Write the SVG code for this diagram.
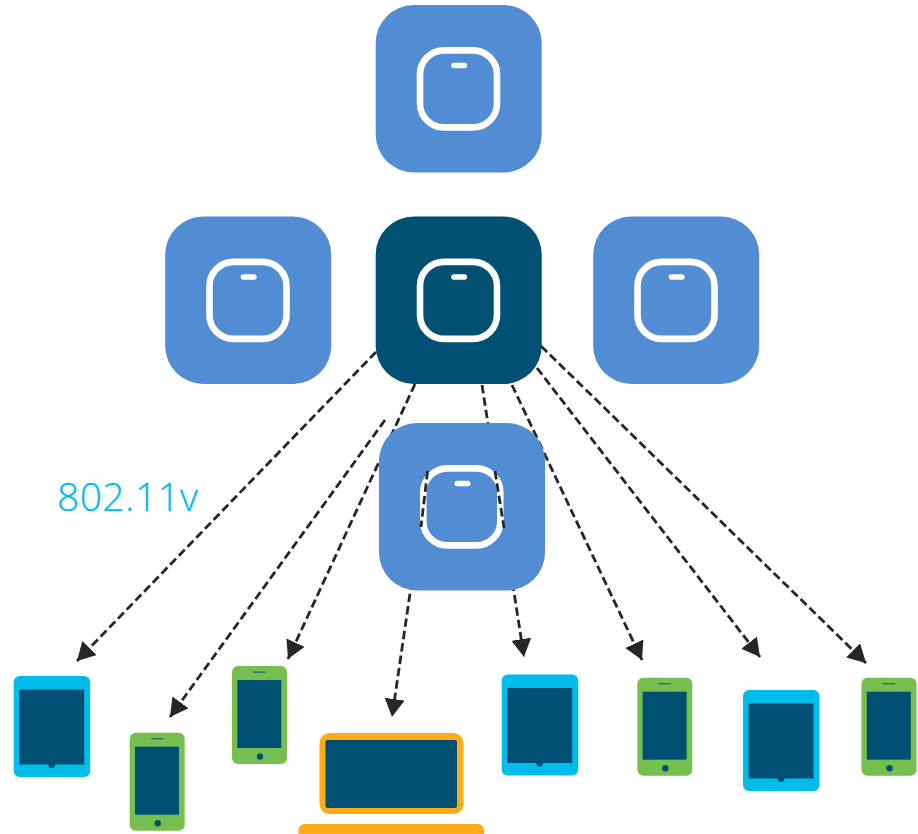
<svg xmlns="http://www.w3.org/2000/svg" width="918" height="834" viewBox="0 0 918 834">
<style>
.ap{fill:#528CD2}
.apd{fill:#005073}
.ring{fill:none;stroke:#fff;stroke-width:6.6}
.led{fill:#fff}
.c{fill:none;stroke:#262626;stroke-width:2.8;stroke-dasharray:8.5 4}
.cyan{fill:#00BCEB}
.green{fill:#76BF4E}
.scr{fill:#005073}
.org{fill:#FDAB18}
.lbl{font-family:"Open Sans","Liberation Sans",sans-serif;font-weight:300;font-size:39px;fill:#00BCEB;stroke:#00BCEB;stroke-width:.3}
</style>
<defs>
<marker id="ah" markerUnits="userSpaceOnUse" markerWidth="20" markerHeight="22" refX="18" refY="10" orient="auto">
<path d="M0 0L18 10L0 20Z" fill="#262626"/>
</marker>
<g id="apicon">
<rect class="ring" x="44.3" y="45.4" width="77" height="77" rx="24"/>
<rect class="led" x="75.5" y="57.8" width="16" height="5.5" rx="2.75"/>
</g>
<g id="tablet">
<rect class="cyan" width="76.5" height="101" rx="6"/>
<rect class="scr" x="5.5" y="13.5" width="65" height="75"/>
<circle class="scr" cx="38" cy="88.5" r="3.4"/>
</g>
<g id="phone">
<rect class="green" width="55" height="98" rx="6"/>
<rect class="scr" x="5.3" y="14" width="44" height="68"/>
<rect class="scr" x="21.5" y="5.6" width="12" height="1"/>
<circle class="scr" cx="28" cy="90.5" r="3.2"/>
</g>
</defs>
<g id="connectors">
<path class="c" d="M376 352L77 661" marker-end="url(#ah)"/>
<path class="c" d="M385 420L170 717" marker-end="url(#ah)"/>
<path class="c" d="M415 384L288 659" marker-end="url(#ah)"/>
<path class="c" d="M428 470L392 717" marker-end="url(#ah)"/>
<path class="c" d="M482 385L524 657" marker-end="url(#ah)"/>
<path class="c" d="M512 385L642 660" marker-end="url(#ah)"/>
<path class="c" d="M537 368L760 657" marker-end="url(#ah)"/>
<path class="c" d="M541 346L866 663" marker-end="url(#ah)"/>
</g>
<g id="ap-top" transform="translate(375.7 5)"><rect class="ap" width="166" height="167.5" rx="38"/><use href="#apicon"/></g>
<g id="ap-left" transform="translate(165.2 216.5)"><rect class="ap" width="166" height="167.5" rx="38"/><use href="#apicon"/></g>
<g id="ap-center" transform="translate(375.7 216.5)"><rect class="apd" width="166" height="167.5" rx="38"/><use href="#apicon"/></g>
<g id="ap-right" transform="translate(593.2 216.5)"><rect class="ap" width="166" height="167.5" rx="38"/><use href="#apicon"/></g>
<g id="ap-lower" transform="translate(379 423)"><rect class="ap" width="166" height="167.5" rx="38"/><use href="#apicon"/></g>
<g id="connectors-over-ring">
<path class="c" d="M427.6 471L421 527"/>
<path class="c" d="M495 471L504 528"/>
</g>
<text class="lbl" x="57" y="511" textLength="141">802.11v</text>
<use id="tablet-1" href="#tablet" x="13.7" y="676"/>
<use id="phone-1" href="#phone" x="129.7" y="732.7"/>
<use id="phone-2" href="#phone" x="232" y="666"/>
<g id="laptop">
<rect class="org" x="319.5" y="733" width="144" height="81" rx="10"/>
<rect class="scr" x="325.5" y="740" width="131.5" height="68" rx="2"/>
<rect class="org" x="298.5" y="824" width="185.5" height="20" rx="6"/>
</g>
<use id="tablet-2" href="#tablet" x="501.7" y="674.5"/>
<use id="phone-3" href="#phone" x="637.3" y="677.7"/>
<use id="tablet-3" href="#tablet" x="743" y="690"/>
<use id="phone-4" href="#phone" x="861.5" y="677.7"/>
</svg>
